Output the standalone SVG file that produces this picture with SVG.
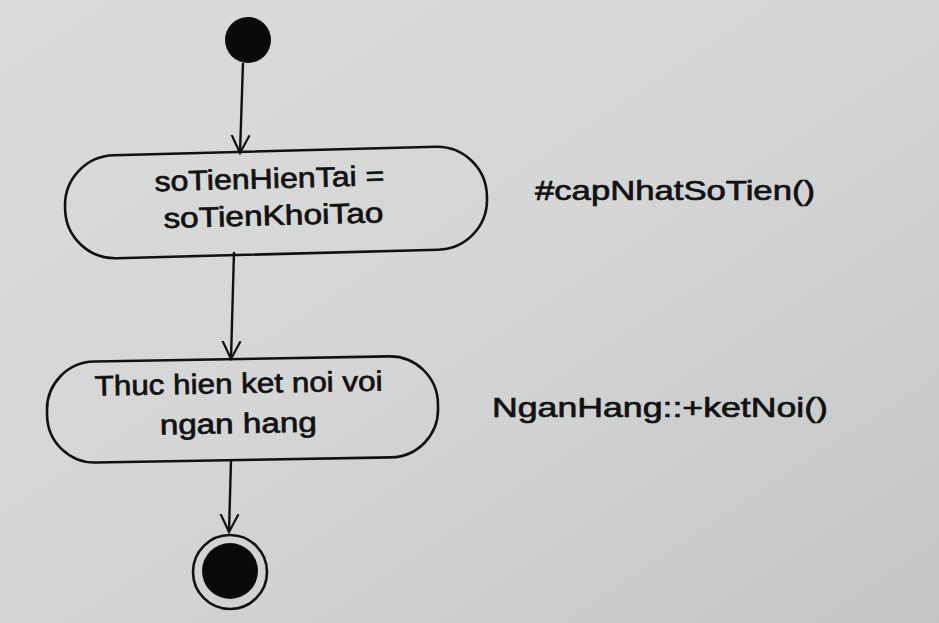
<svg xmlns="http://www.w3.org/2000/svg" width="939" height="623" viewBox="0 0 939 623">
<defs>
<linearGradient id="bg" x1="0" y1="0" x2="1" y2="1">
<stop offset="0" stop-color="#dadcdb"/>
<stop offset="0.5" stop-color="#d4d6d5"/>
<stop offset="1" stop-color="#c3c6c5"/>
</linearGradient>
<marker id="open" viewBox="0 0 20 24" refX="18" refY="12" markerWidth="20" markerHeight="24" markerUnits="userSpaceOnUse" orient="auto">
<path d="M0,3 L18,12 L0,21" fill="none" stroke="#111" stroke-width="2.2"/>
</marker>
<style>
.act{fill:none;stroke:#111;stroke-width:2.6}
.edge{fill:none;stroke:#111;stroke-width:2.4}
.t{font-family:"Liberation Sans",Arial,sans-serif;font-size:28px;fill:#111;stroke:#111;stroke-width:0.7}
</style>
</defs>
<rect width="939" height="623" fill="url(#bg)"/>
<g id="connectors">
<path class="edge" d="M243,63 L240,153" marker-end="url(#open)"/>
<path class="edge" d="M234,252 L231,359" marker-end="url(#open)"/>
<path class="edge" d="M231,460 L229,532" marker-end="url(#open)"/>
</g>
<g id="start">
<circle cx="248" cy="40" r="23" fill="#0a0a0a"/>
</g>
<g id="act1" transform="rotate(-1.5 276 202)">
<rect class="act" x="65" y="151" width="422" height="103" rx="50" ry="50"/>
<text class="t" x="270" y="188" text-anchor="middle" textLength="230" lengthAdjust="spacingAndGlyphs">soTienHienTai =</text>
<text class="t" x="273" y="225" text-anchor="middle" textLength="220" lengthAdjust="spacingAndGlyphs">soTienKhoiTao</text>
</g>
<g id="act2" transform="rotate(-1 242 409)">
<rect class="act" x="47" y="359" width="391" height="101" rx="48" ry="48"/>
<text class="t" x="239" y="393" text-anchor="middle" textLength="288" lengthAdjust="spacingAndGlyphs">Thuc hien ket noi voi</text>
<text class="t" x="238" y="433" text-anchor="middle" textLength="157" lengthAdjust="spacingAndGlyphs">ngan hang</text>
</g>
<g id="label1">
<text class="t" x="535" y="200" textLength="280" lengthAdjust="spacingAndGlyphs">#capNhatSoTien()</text>
</g>
<g id="label2">
<text class="t" x="492" y="417" textLength="336" lengthAdjust="spacingAndGlyphs">NganHang::+ketNoi()</text>
</g>
<g id="end">
<circle cx="230" cy="572" r="37" fill="none" stroke="#111" stroke-width="2.6"/>
<circle cx="230" cy="571" r="28" fill="#0a0a0a"/>
</g>
</svg>
